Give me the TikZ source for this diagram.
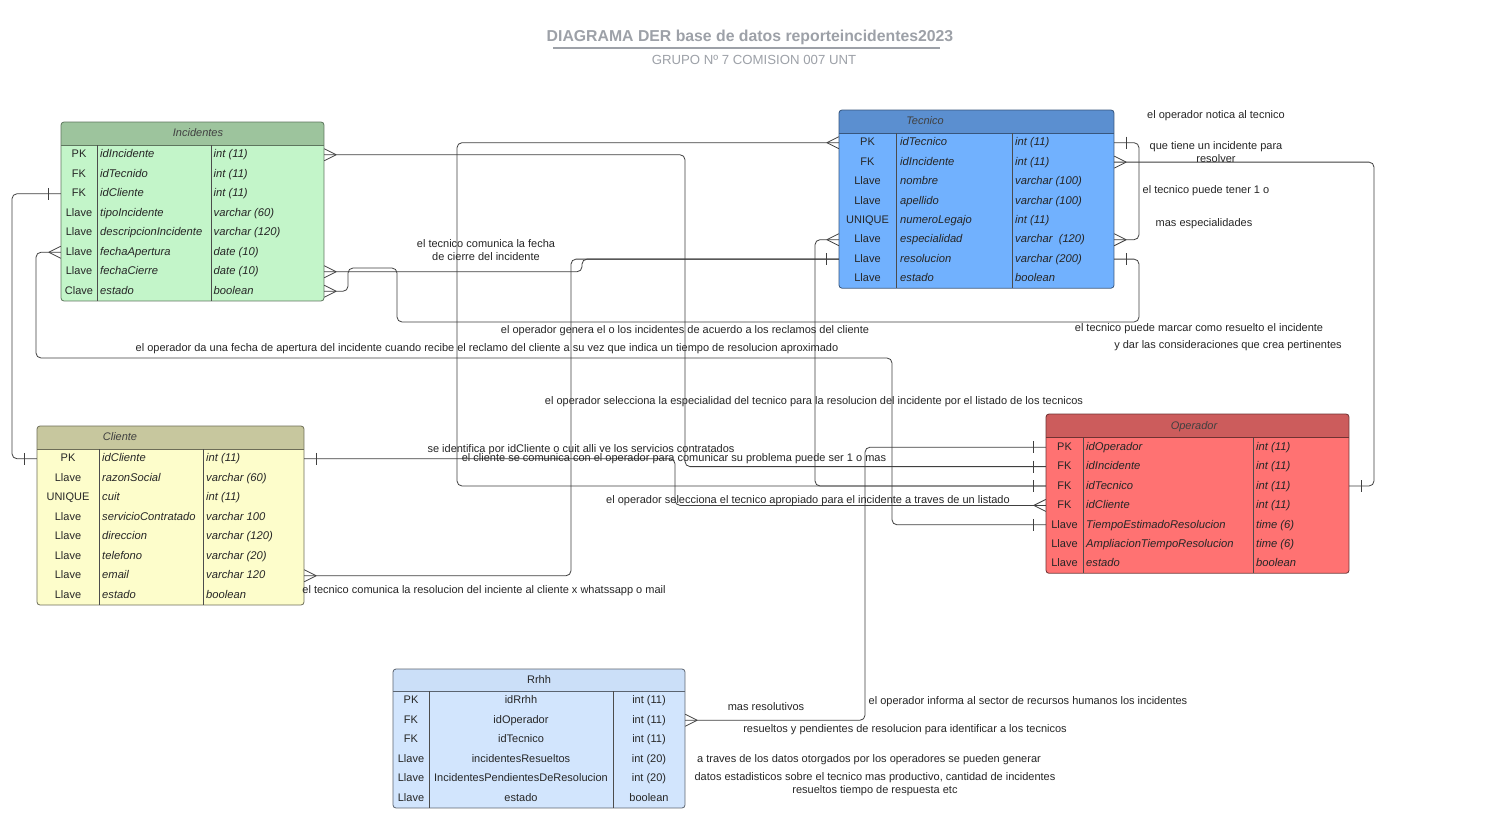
\documentclass[tikz,border=0pt]{standalone}
\usepackage{fontspec}
\setmainfont{Liberation Sans}
\usepackage{tikz}
\usetikzlibrary{calc}

\definecolor{titlegray}{HTML}{9DA1A8}
\definecolor{inchdr}{HTML}{9DC49D}
\definecolor{incbody}{HTML}{C3F5C9}
\definecolor{techdr}{HTML}{5B8FD0}
\definecolor{tecbody}{HTML}{71B1FE}
\definecolor{clihdr}{HTML}{C7C79E}
\definecolor{clibody}{HTML}{FDFDCB}
\definecolor{ophdr}{HTML}{CC5C5C}
\definecolor{opbody}{HTML}{FF7272}
\definecolor{rrhhhdr}{HTML}{CBDFF8}
\definecolor{rrhhbody}{HTML}{D2E5FD}

\newcommand{\tableframe}[8]{%
  \begin{scope}
    \clip[rounded corners=3pt] (#1,#2) rectangle (#3,#4);
    \fill[#7] (#1,#2) rectangle (#3,#4);
    \fill[#6] (#1,#2) rectangle (#3,#5);
  \end{scope}
  \draw[#8, line width=0.8pt] (#1,#5) -- (#3,#5);
  \draw[#8, line width=0.8pt, rounded corners=3pt] (#1,#2) rectangle (#3,#4);
}
\newcommand{\crowfoot}[2]{\draw[rel] ($(#1)+(#2,0)$) -- ($(#1)+(0,-6)$) ($(#1)+(#2,0)$) -- ($(#1)+(0,6)$);}
\newcommand{\onebar}[2]{\draw[rel] ($(#1)+(#2,-6)$) -- ($(#1)+(#2,6)$);}

\begin{document}
\begin{tikzpicture}[
    x=1pt, y=-1pt,
    every node/.style={inner sep=0pt, font=\fontsize{11}{13}\selectfont, text=black!85, text height=8.6pt, text depth=2.2pt},
    rowbox/.style={rectangle, minimum height=19.5pt},
    keytxt/.style={},
    fieldtxt/.style={anchor=west, font=\fontsize{11.2}{13}\selectfont\itshape},
    hdrtxt/.style={font=\fontsize{11}{13}\selectfont\itshape, text=black!75},
    lbl/.style={align=center},
    colline/.style={draw=black!70, line width=0.8pt},
    rel/.style={draw=black!75, line width=0.8pt, rounded corners=5pt}
  ]
  \path[use as bounding box, fill=white] (0,0) rectangle (1496,827);

  \node (title) [font=\fontsize{15.8}{18}\selectfont\bfseries, text=titlegray, text height=11pt, text depth=3pt] at (750,37) {DIAGRAMA DER base de datos reporteincidentes2023};
  \draw[titlegray, line width=1.2pt] (553,48) -- (940,48);
  \node (subtitle) [font=\fontsize{13.2}{15}\selectfont, text=titlegray, text height=9.5pt, text depth=0pt] at (754,59.5) {GRUPO Nº 7 COMISION 007 UNT};

  % Incidentes
  \tableframe{61}{122}{324}{301}{145}{inchdr}{incbody}{inchdr!60!black}
  \node (inc-title) [hdrtxt] at (198,133.5) {Incidentes};
  \draw[colline] (97,145) -- (97,301) (211,145) -- (211,301);
  \foreach \k/\f/\t [count=\i] in {PK/idIncidente/int (11), FK/idTecnido/int (11), FK/idCliente/int (11), Llave/tipoIncidente/varchar (60), Llave/descripcionIncidente/varchar (120), Llave/fechaApertura/date (10), Llave/fechaCierre/date (10), Clave/estado/boolean} {
    \pgfmathsetmacro\yy{145+19.5*\i-9.75}
    \node (inc-\i) [rowbox, minimum width=263pt] at (192.5,\yy) {};
    \node (inc-k\i) [keytxt] at (79,\yy) {\k};
    \node (inc-f\i) [fieldtxt] at (100,\yy) {\f};
    \node (inc-t\i) [fieldtxt] at (213.5,\yy) {\t};
  }

  % Tecnico
  \tableframe{839}{110}{1114}{288.2}{133}{techdr}{tecbody}{techdr!60!black}
  \node (tec-title) [hdrtxt] at (925,121.5) {Tecnico};
  \draw[colline] (896,133) -- (896,288.2) (1012,133) -- (1012,288.2);
  \foreach \k/\f/\t [count=\i] in {PK/idTecnico/int (11), FK/idIncidente/int (11), Llave/nombre/varchar (100), Llave/apellido/varchar (100), UNIQUE/numeroLegajo/int (11), Llave/especialidad/varchar~ (120), Llave/resolucion/varchar (200), Llave/estado/boolean} {
    \pgfmathsetmacro\yy{133+19.4*\i-9.7}
    \node (tec-\i) [rowbox, minimum width=275pt] at (976.5,\yy) {};
    \node (tec-k\i) [keytxt] at (867.5,\yy) {\k};
    \node (tec-f\i) [fieldtxt] at (900,\yy) {\f};
    \node (tec-t\i) [fieldtxt] at (1015,\yy) {\t};
  }

  % Cliente
  \tableframe{37}{426}{304}{605}{449}{clihdr}{clibody}{clihdr!55!black}
  \node (cli-title) [hdrtxt] at (120,437.5) {Cliente};
  \draw[colline] (99,449) -- (99,605) (203,449) -- (203,605);
  \foreach \k/\f/\t [count=\i] in {PK/idCliente/int (11), Llave/razonSocial/varchar (60), UNIQUE/cuit/int (11), Llave/servicioContratado/varchar 100, Llave/direccion/varchar (120), Llave/telefono/varchar (20), Llave/email/varchar 120, Llave/estado/boolean} {
    \pgfmathsetmacro\yy{449+19.5*\i-9.75}
    \node (cli-\i) [rowbox, minimum width=267pt] at (170.5,\yy) {};
    \node (cli-k\i) [keytxt] at (68,\yy) {\k};
    \node (cli-f\i) [fieldtxt] at (102,\yy) {\f};
    \node (cli-t\i) [fieldtxt] at (206,\yy) {\t};
  }

  % Operador
  \tableframe{1046}{414}{1349}{573.3}{437.5}{ophdr}{opbody}{ophdr!55!black}
  \node (op-title) [hdrtxt] at (1194,426) {Operador};
  \draw[colline] (1083,437.5) -- (1083,573.3) (1253,437.5) -- (1253,573.3);
  \foreach \k/\f/\t [count=\i] in {PK/idOperador/int (11), FK/idIncidente/int (11), FK/idTecnico/int (11), FK/idCliente/int (11), Llave/TiempoEstimadoResolucion/time (6), Llave/AmpliacionTiempoResolucion/time (6), Llave/estado/boolean} {
    \pgfmathsetmacro\yy{437.5+19.4*\i-9.7}
    \node (op-\i) [rowbox, minimum width=303pt] at (1197.5,\yy) {};
    \node (op-k\i) [keytxt] at (1064.5,\yy) {\k};
    \node (op-f\i) [fieldtxt] at (1086,\yy) {\f};
    \node (op-t\i) [fieldtxt] at (1256,\yy) {\t};
  }

  % Rrhh
  \tableframe{393}{669}{685}{808}{691}{rrhhhdr}{rrhhbody}{rrhhhdr!45!black}
  \node (rrhh-title) at (539,680) {Rrhh};
  \draw[colline] (429,691) -- (429,808) (613,691) -- (613,808);
  \foreach \k/\f/\t [count=\i] in {PK/idRrhh/int (11), FK/idOperador/int (11), FK/idTecnico/int (11), Llave/incidentesResueltos/int (20), Llave/IncidentesPendientesDeResolucion/int (20), Llave/estado/boolean} {
    \pgfmathsetmacro\yy{691+19.5*\i-9.75}
    \node (rrhh-\i) [rowbox, minimum width=292pt] at (539,\yy) {};
    \node (rrhh-k\i) [keytxt] at (411,\yy) {\k};
    \node (rrhh-f\i) [keytxt] at (521,\yy) {\f};
    \node (rrhh-t\i) [keytxt] at (649,\yy) {\t};
  }

  \coordinate (c-incop) at (685,0);
  \coordinate (c-tecop) at (457,0);
  \coordinate (c-espop) at (815,0);
  \coordinate (c-cierre) at (582,0);
  \coordinate (c-email) at (571,0);
  \coordinate (c-estado) at (1139,0);
  \coordinate (c-self) at (1139,0);
  \coordinate (c-notica) at (1374,0);
  \coordinate (c-cliente) at (12,0);
  \coordinate (c-apertura) at (892,0);
  \coordinate (c-ident) at (675,0);
  \coordinate (c-rrhh) at (865,0);
  \coordinate (bend-a) at (348,268);
  \coordinate (bend-b) at (397,322);
  \coordinate (bend-c) at (36,358);

  \draw[rel] (inc-1.east) -| (c-incop |- op-2.west) -- (op-2.west);
  \draw[rel] (tec-1.west) -| (c-tecop |- op-3.west) -- (op-3.west);
  \draw[rel] (tec-6.west) -| (c-espop |- op-3.west) -- (op-3.west);
  \draw[rel] (inc-7.east) -| (c-cierre |- tec-7.west) -- (tec-7.west);
  \draw[rel] (cli-7.east) -| (c-email |- tec-7.west) -- (tec-7.west);
  \draw[rel] (inc-8.east) -| (bend-a) -| (bend-b) -| (c-estado |- tec-7.east) -- (tec-7.east);
  \draw[rel] (tec-1.east) -| (c-self |- tec-6.east) -- (tec-6.east);
  \draw[rel] (tec-2.east) -| (c-notica |- op-3.east) -- (op-3.east);
  \draw[rel] (inc-3.west) -| (c-cliente |- cli-1.west) -- (cli-1.west);
  \draw[rel] (inc-6.west) -| (bend-c) -| (c-apertura |- op-5.west) -- (op-5.west);
  \draw[rel] (cli-1.east) -| (c-ident |- op-4.west) -- (op-4.west);
  \draw[rel] (op-1.west) -| (c-rrhh |- rrhh-2.east) -- (rrhh-2.east);

  \crowfoot{inc-1.east}{12} \onebar{op-2.west}{-12}
  \crowfoot{tec-1.west}{-12} \onebar{op-3.west}{-12}
  \crowfoot{tec-6.west}{-12}
  \crowfoot{inc-7.east}{12} \onebar{tec-7.west}{-12}
  \crowfoot{cli-7.east}{12}
  \crowfoot{inc-8.east}{12} \onebar{tec-7.east}{12}
  \onebar{tec-1.east}{12} \crowfoot{tec-6.east}{12}
  \crowfoot{tec-2.east}{12} \onebar{op-3.east}{12}
  \onebar{inc-3.west}{-12} \onebar{cli-1.west}{-12}
  \crowfoot{inc-6.west}{-12} \onebar{op-5.west}{-12}
  \onebar{cli-1.east}{12} \crowfoot{op-4.west}{-12}
  \onebar{op-1.west}{-12} \crowfoot{rrhh-2.east}{12}

  \node (lbl-fecha) [lbl] at (486,257.2) {el tecnico comunica la fecha\\de cierre del incidente};
  \node (lbl-genera) [lbl] at (685,330) {el operador genera el o los incidentes de acuerdo a los reclamos del cliente};
  \node (lbl-apertura) [lbl] at (487,348) {el operador da una fecha de apertura del incidente cuando recibe el reclamo del cliente a su vez que indica un tiempo de resolucion aproximado};
  \node (lbl-espec) [lbl] at (814,401) {el operador selecciona la especialidad del tecnico para la resolucion del incidente por el listado de los tecnicos};
  \node (lbl-ident) [lbl] at (581,449) {se identifica por idCliente o cuit alli ve los servicios contratados};
  \node (lbl-comunica) [lbl] at (674,458) {el cliente se comunica con el operador para comunicar su problema puede ser 1 o mas};
  \node (lbl-listado) [lbl] at (808,500) {el operador selecciona el tecnico apropiado para el incidente a traves de un listado};
  \node (lbl-resol) [lbl] at (484,590) {el tecnico comunica la resolucion del inciente al cliente x whatssapp o mail};
  \node (lbl-notica) [lbl] at (1216,115) {el operador notica al tecnico};
  \node (lbl-tiene) [lbl] at (1216,159.2) {que tiene un incidente para\\resolver};
  \node (lbl-puede) [lbl] at (1206,190) {el tecnico puede tener 1 o};
  \node (lbl-mas) [lbl] at (1204,223) {mas especialidades};
  \node (lbl-marcar) [lbl] at (1199,328) {el tecnico puede marcar como resuelto el incidente};
  \node (lbl-dar) [lbl] at (1228,345) {y dar las consideraciones que crea pertinentes};
  \node (lbl-resolutivos) [lbl] at (766,707) {mas resolutivos};
  \node (lbl-informa) [lbl] at (1028,701) {el operador informa al sector de recursos humanos los incidentes};
  \node (lbl-pendientes) [lbl] at (905,729) {resueltos y pendientes de resolucion para identificar a los tecnicos};
  \node (lbl-traves) [lbl] at (869,759) {a traves de los datos otorgados por los operadores se pueden generar};
  \node (lbl-estad) [lbl] at (875,790.2) {datos estadisticos sobre el tecnico mas productivo, cantidad de incidentes\\resueltos tiempo de respuesta etc};
\end{tikzpicture}
\end{document}
